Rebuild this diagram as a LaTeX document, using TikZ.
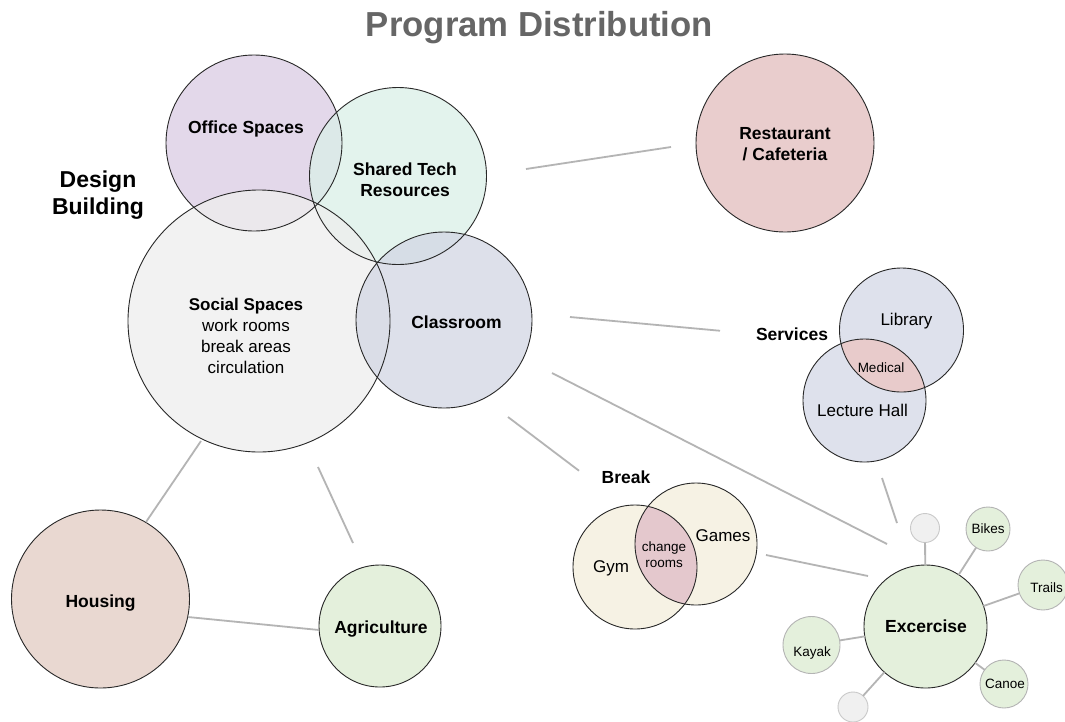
\documentclass[tikz,border=0pt]{standalone}
\usepackage{fontspec}
\setmainfont{Liberation Sans}
\usetikzlibrary{calc}

\definecolor{officeC}{RGB}{218,204,228}
\definecolor{sharedC}{RGB}{218,239,232}
\definecolor{socialC}{RGB}{238,238,238}
\definecolor{classC}{RGB}{210,214,228}
\definecolor{restC}{RGB}{233,205,205}
\definecolor{svcC}{RGB}{222,225,236}
\definecolor{medC}{RGB}{232,203,203}
\definecolor{breakC}{RGB}{246,242,228}
\definecolor{changeC}{RGB}{228,200,205}
\definecolor{houseC}{RGB}{233,216,209}
\definecolor{greenC}{RGB}{228,240,220}
\definecolor{dotC}{RGB}{240,240,240}
\definecolor{linkC}{RGB}{180,180,180}
\definecolor{ringC}{RGB}{40,40,40}
\definecolor{titleC}{RGB}{102,102,102}

\tikzset{
  disc/.style 2 args={circle, inner sep=0pt, outer sep=0pt, minimum size=2*#1, fill=#2},
  ring/.style={draw=ringC, line width=0.9pt},
  link/.style={draw=linkC, line width=1.8pt},
  boldlbl/.style={font=\fontsize{17.5}{21}\selectfont\bfseries, inner sep=0pt, align=center},
  plainlbl/.style={font=\fontsize{17}{21}\selectfont, inner sep=0pt, align=center},
  smalllbl/.style={font=\fontsize{13.5}{16.3}\selectfont, inner sep=0pt, align=center},
}

\begin{document}
\begin{tikzpicture}[x=1pt,y=-1pt]
\useasboundingbox (0,0) rectangle (1065,721);
\fill[white] (0,0) rectangle (1065,721);

% title
\node[font=\fontsize{34.7}{40}\selectfont\bfseries, text=titleC, anchor=base, inner sep=0pt]
  (title) at (539.5,36.7) {Program Distribution};

% ---- design building cluster: translucent fills first, outlines after
\node[disc={88}{officeC}, fill opacity=.75] (office) at (254,143) {};
\node[disc={88.5}{sharedC}, fill opacity=.75] (shared) at (398,176) {};
\node[disc={131}{socialC}, fill opacity=.75] (social) at (259,321) {};
\node[disc={88}{classC}, fill opacity=.75] (classroom) at (444,320) {};
\draw[ring] (office) circle [radius=88];
\draw[ring] (shared) circle [radius=88.5];
\draw[ring] (social) circle [radius=131];
\draw[ring] (classroom) circle [radius=88];

\node[boldlbl, anchor=base] (officeT) at (246,133) {Office Spaces};
\node[boldlbl] (sharedT) at (405,179.3) {Shared Tech\\Resources};
\node[boldlbl, anchor=base] (classT) at (456.5,328) {Classroom};
\node[plainlbl] (socialT) at (246,335.5) {\bfseries Social Spaces\\work rooms\\break areas\\circulation};
\node[font=\fontsize{23}{27.7}\selectfont\bfseries, inner sep=0pt, align=center]
  (designT) at (98,195) {Design\\Building};

% ---- restaurant
\node[disc={89}{restC}, ring] (rest) at (785,143) {};
\node[boldlbl] (restT) at (785,144.5) {Restaurant\\/ Cafeteria};

% ---- services
\node[disc={62}{svcC}] (library) at (901.5,330) {};
\node[disc={61.5}{svcC}] (lecture) at (864.5,400.5) {};
\begin{scope}
  \clip (library) circle [radius=62];
  \fill[medC] (lecture) circle [radius=61.5];
\end{scope}
\draw[ring] (library) circle [radius=62];
\draw[ring] (lecture) circle [radius=61.5];
\node[boldlbl, anchor=base] (services) at (792,340) {Services};
\node[plainlbl, anchor=base] (libraryT) at (906.5,325.7) {Library};
\node[smalllbl, anchor=base] (medicalT) at (881,372) {Medical};
\node[plainlbl, anchor=base] (lectureT) at (862.5,416.7) {Lecture Hall};

% ---- break
\node[disc={62}{breakC}] (gym) at (635,567) {};
\node[disc={61}{breakC}] (games) at (696,544) {};
\begin{scope}
  \clip (gym) circle [radius=62];
  \fill[changeC] (games) circle [radius=61];
\end{scope}
\draw[ring] (gym) circle [radius=62];
\draw[ring] (games) circle [radius=61];
\node[boldlbl, anchor=base] (breakT) at (626,483) {Break};
\node[plainlbl, anchor=base] (gymT) at (611,572.7) {Gym};
\node[plainlbl, anchor=base] (gamesT) at (723,541.7) {Games};
\node[smalllbl] (changeT) at (664,555) {change\\rooms};

% ---- housing and agriculture
\node[disc={89}{houseC}, ring] (housing) at (100.5,599) {};
\node[disc={61}{greenC}, ring] (agri) at (380,626) {};
\node[boldlbl, anchor=base] (housingT) at (100.5,607) {Housing};
\node[boldlbl, anchor=base] (agriT) at (381,633) {Agriculture};

% ---- exercise hub and its satellites
\node[disc={61.5}{greenC}, ring] (exercise) at (925.5,626.5) {};
\node[disc={14.5}{dotC}, ring, draw=ringC!25] (dotA) at (925,528) {};
\node[disc={15}{dotC}, ring, draw=ringC!25] (dotB) at (853,707) {};
\node[disc={22}{greenC}, ring, draw=ringC!35] (bikes) at (988,529) {};
\node[disc={25}{greenC}, ring, draw=ringC!35] (trails) at (1043,585) {};
\node[disc={24}{greenC}, ring, draw=ringC!35] (canoe) at (1004,684) {};
\node[disc={28.5}{greenC}, ring, draw=ringC!35] (kayak) at (811.5,645) {};
\foreach \s in {dotA,dotB,bikes,trails,canoe,kayak}
  \draw[link] (exercise) -- (\s);
\node[boldlbl, anchor=base] (exerciseT) at (926,632.3) {Excercise};
\node[smalllbl, anchor=base] (bikesT) at (988,533) {Bikes};
\node[smalllbl, anchor=base] (trailsT) at (1046.5,592) {Trails};
\node[smalllbl, anchor=base] (canoeT) at (1005,688) {Canoe};
\node[smalllbl, anchor=base] (kayakT) at (812,656.7) {Kayak};

% ---- connectors between program groups
\draw[link] ($(social)+(-58,120)$) -- ($(housing)+(45.5,-77)$);
\draw[link] ($(social)+(59,146)$) -- ($(agri)+(-27,-83)$);
\draw[link] ($(housing)+(87.5,18)$) -- ($(agri)+(-61,4)$);
\draw[link] ($(shared)+(128,-7)$) -- ($(rest)+(-114,4)$);
\draw[link] ($(classroom)+(126,-3)$) -- ($(services)+(-72,-3)$);
\draw[link] ($(classroom)+(64,97)$) -- ($(breakT)+(-47,-6)$);
\draw[link] ($(classroom)+(108,53)$) -- ($(exercise)+(-38.5,-82.5)$);
\draw[link] ($(games)+(70,11)$) -- ($(exercise)+(-57.5,-50.5)$);
\draw[link] ($(lecture)+(17.5,77.5)$) -- ($(exercise)+(-28.5,-103.5)$);
\end{tikzpicture}
\end{document}
